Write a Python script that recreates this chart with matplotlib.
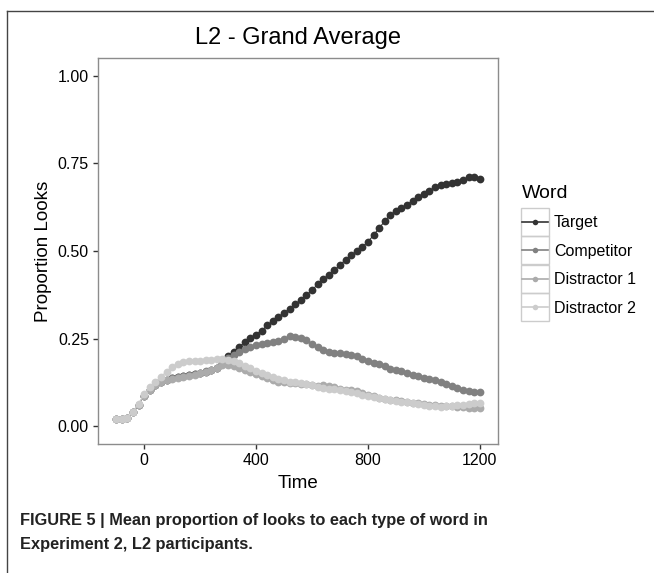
import matplotlib
matplotlib.use('Agg')
import matplotlib.pyplot as plt
from matplotlib.patches import Rectangle
from matplotlib.lines import Line2D

plt.rcParams['font.family'] = ['Liberation Sans', 'DejaVu Sans']

# Zeit in ms (Schritte von 20 ms)
time = list(range(-100, 1201, 20))

target = [0.022, 0.021, 0.024, 0.040, 0.062, 0.088, 0.105, 0.118, 0.126, 0.132,
          0.137, 0.140, 0.143, 0.146, 0.149, 0.152, 0.156, 0.160, 0.167, 0.182,
          0.200, 0.213, 0.227, 0.240, 0.252, 0.262, 0.273, 0.288, 0.300, 0.312,
          0.323, 0.336, 0.348, 0.360, 0.374, 0.388, 0.405, 0.420, 0.432, 0.445,
          0.460, 0.475, 0.488, 0.500, 0.512, 0.526, 0.545, 0.565, 0.585, 0.603,
          0.614, 0.622, 0.632, 0.643, 0.653, 0.662, 0.672, 0.682, 0.688, 0.690,
          0.693, 0.698, 0.703, 0.710, 0.712, 0.705]

competitor = [0.022, 0.021, 0.024, 0.040, 0.062, 0.088, 0.105, 0.118, 0.127, 0.133,
              0.138, 0.141, 0.144, 0.147, 0.150, 0.153, 0.157, 0.161, 0.168, 0.180,
              0.195, 0.203, 0.212, 0.220, 0.226, 0.232, 0.236, 0.238, 0.240, 0.243,
              0.250, 0.257, 0.256, 0.252, 0.245, 0.236, 0.226, 0.218, 0.213, 0.210,
              0.209, 0.207, 0.205, 0.200, 0.192, 0.186, 0.181, 0.177, 0.171, 0.164,
              0.160, 0.157, 0.152, 0.148, 0.143, 0.138, 0.135, 0.131, 0.126, 0.121,
              0.116, 0.110, 0.105, 0.101, 0.099, 0.097]

distractor1 = [0.022, 0.021, 0.024, 0.040, 0.062, 0.088, 0.105, 0.118, 0.126, 0.132,
               0.136, 0.139, 0.142, 0.145, 0.148, 0.151, 0.155, 0.160, 0.166, 0.176,
               0.176, 0.172, 0.167, 0.162, 0.156, 0.150, 0.144, 0.138, 0.131, 0.127,
               0.126, 0.125, 0.124, 0.122, 0.120, 0.118, 0.115, 0.117, 0.116, 0.112,
               0.108, 0.105, 0.103, 0.100, 0.096, 0.091, 0.086, 0.082, 0.079, 0.076,
               0.074, 0.072, 0.070, 0.068, 0.066, 0.064, 0.062, 0.060, 0.059, 0.058,
               0.057, 0.056, 0.055, 0.054, 0.053, 0.052]

distractor2 = [0.022, 0.021, 0.024, 0.042, 0.065, 0.092, 0.112, 0.127, 0.142, 0.156,
               0.170, 0.177, 0.183, 0.186, 0.187, 0.187, 0.188, 0.190, 0.192, 0.193,
               0.190, 0.186, 0.180, 0.173, 0.166, 0.159, 0.153, 0.147, 0.141, 0.136,
               0.131, 0.128, 0.126, 0.123, 0.120, 0.117, 0.113, 0.110, 0.108, 0.106,
               0.103, 0.100, 0.097, 0.094, 0.091, 0.088, 0.085, 0.082, 0.079, 0.076,
               0.073, 0.071, 0.069, 0.067, 0.064, 0.061, 0.059, 0.057, 0.056, 0.057,
               0.058, 0.060, 0.062, 0.064, 0.066, 0.068]

words = ['Target', 'Competitor', 'Distractor 1', 'Distractor 2']
series = [target, competitor, distractor1, distractor2]
colors = ['#333333', '#818181', '#ababab', '#cccccc']

W, H = 654, 573
fig = plt.figure(figsize=(W / 100, H / 100), dpi=100)
ax = fig.add_axes([98 / W, 1 - 444 / H, 400 / W, 386 / H])

for name, vals, c in zip(words, series, colors):
    ax.plot(time, vals, color=c, lw=0.8, marker='o', markersize=5.6,
            markeredgewidth=0, label=name)

ax.set_xlim(-165, 1265)
ax.set_ylim(-0.05, 1.05)
ax.set_xticks([0, 400, 800, 1200])
ax.set_yticks([0, 0.25, 0.5, 0.75, 1.0])
ax.set_yticklabels(['0.00', '0.25', '0.50', '0.75', '1.00'])
for s in ax.spines.values():
    s.set_color('#8c8c8c')
    s.set_linewidth(1.0)
ax.tick_params(direction='out', length=3.5, width=1.0, color='#333333',
               labelsize=11.5, labelcolor='black', pad=3)

fig.text(298 / W, 1 - 38 / H, 'L2 - Grand Average', ha='center', va='center', fontsize=17)
fig.text(298 / W, 1 - 484 / H, 'Time', ha='center', va='center', fontsize=13.5)
fig.text(43 / W, 1 - 251 / H, 'Proportion Looks', ha='center', va='center',
         rotation=90, fontsize=13.5)

# Legende
handles = [Line2D([], [], color=c, lw=1.2, marker='o', markersize=4, markeredgewidth=0)
           for c in colors]
leg = fig.legend(handles, words, loc='upper left', bbox_to_anchor=(522 / W, 1 - 185 / H),
                 frameon=False, title='Word', title_fontsize=14, fontsize=11.5,
                 handlelength=1.6, handletextpad=0.4, labelspacing=0.84,
                 borderpad=0, borderaxespad=0)
leg._legend_box.align = 'left'
fig.canvas.draw()
for h in leg.legend_handles:
    bb = h.get_window_extent(fig.canvas.get_renderer())
    cx = (bb.x0 + bb.x1) / 2
    cy = (bb.y0 + bb.y1) / 2
    fig.add_artist(Rectangle(((cx - 14) / W, (cy - 14) / H), 28 / W, 28 / H,
                             transform=fig.transFigure, fill=False,
                             edgecolor='#cccccc', lw=1))

# Rahmen der Abbildung
fig.add_artist(Line2D([7 / W, 7 / W], [0, 1 - 11 / H], transform=fig.transFigure,
                      color='#444444', lw=1))
fig.add_artist(Line2D([7 / W, 1], [1 - 11 / H, 1 - 11 / H], transform=fig.transFigure,
                      color='#444444', lw=1))

fig.text(20 / W, 1 - 520 / H, 'FIGURE 5 | Mean proportion of looks to each type of word in',
         ha='left', va='center', fontsize=11.8, fontweight='bold', color='#222222')
fig.text(20 / W, 1 - 545 / H, 'Experiment 2, L2 participants.',
         ha='left', va='center', fontsize=11.8, fontweight='bold', color='#222222')

fig.savefig('out.png', dpi=100)
